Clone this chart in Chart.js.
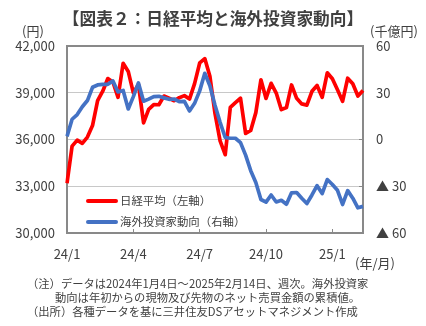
<!DOCTYPE html>
<html lang="ja">
<head>
<meta charset="utf-8">
<title>日経平均と海外投資家動向</title>
<script src="https://cdn.jsdelivr.net/npm/chart.js@4.4.1/dist/chart.umd.min.js"></script>
<style>
  html, body { margin: 0; padding: 0; background: #fff; }
  canvas { display: block; }
</style>
</head>
<body>
<canvas id="chart" width="426" height="326"></canvas>
<script>
// 週次データ（2024/1/4〜2025/2/14）
const labels = [
  '2024/1/4', '2024/1/12', '2024/1/19', '2024/1/26', '2024/2/2', '2024/2/9', '2024/2/16', '2024/2/22',
  '2024/3/1', '2024/3/8', '2024/3/15', '2024/3/22', '2024/3/29', '2024/4/5', '2024/4/12', '2024/4/19',
  '2024/4/26', '2024/5/2', '2024/5/10', '2024/5/17', '2024/5/24', '2024/5/31', '2024/6/7', '2024/6/14',
  '2024/6/21', '2024/6/28', '2024/7/5', '2024/7/12', '2024/7/19', '2024/7/26', '2024/8/2', '2024/8/9',
  '2024/8/16', '2024/8/23', '2024/8/30', '2024/9/6', '2024/9/13', '2024/9/20', '2024/9/27', '2024/10/4',
  '2024/10/11', '2024/10/18', '2024/10/25', '2024/11/1', '2024/11/8', '2024/11/15', '2024/11/22', '2024/11/29',
  '2024/12/6', '2024/12/13', '2024/12/20', '2024/12/27', '2024/12/30', '2025/1/10', '2025/1/17', '2025/1/24',
  '2025/1/31', '2025/2/7', '2025/2/14'
];

// 日経平均（円、左軸）
const nikkei = [
  33200, 35577, 35963, 35751, 36158, 36897, 38487, 39099, 39911, 39689,
  38708, 40888, 40369, 38992, 39524, 37068, 37935, 38236, 38229, 38787,
  38646, 38488, 38684, 38815, 38596, 39583, 40912, 41191, 40064, 37667,
  35910, 35025, 38063, 38364, 38648, 36391, 36582, 37724, 39830, 38636,
  39606, 38982, 37914, 38054, 39500, 38643, 38284, 38208, 39091, 39470,
  38702, 40281, 39895, 39190, 38451, 39932, 39572, 38787, 39149
];

// 海外投資家動向（千億円、右軸）
const foreign = [
  2, 13, 16, 21, 25, 33.5, 35, 35.4, 35.4, 37.6,
  30.5, 31.5, 19.6, 27.5, 36.3, 24.6, 25.9, 27.5, 27.7, 26.7,
  25.8, 26, 24.3, 24.5, 18.3, 23.2, 31.2, 42.5, 34.5, 22,
  11, 1.3, 0.8, 0.8, -2, -10, -20, -27.6, -38.5, -40.2,
  -35.6, -40.1, -39, -41.5, -34.2, -34, -37.7, -41.1, -35.6, -29.6,
  -34.7, -25.7, -28.9, -32.6, -41.7, -32.8, -37.7, -43.8, -42.9
];

const xTickIndex = [0, 13, 26, 39, 52];
const xTickLabels = ['24/1', '24/4', '24/7', '24/10', '25/1'];
const leftRange = [30000, 42000, 3000];
const rightRange = [-60, 60, 30];

const notes = [
  '（注）データは2024年1月4日～2025年2月14日、週次。海外投資家',
  '動向は年初からの現物及び先物のネット売買金額の累積値。',
  '（出所）各種データを基に三井住友DSアセットマネジメント作成'
];

const FONT = "'Noto Sans CJK JP', 'Noto Sans', sans-serif";
const TEXT = '#404040';

Chart.defaults.font.family = FONT;
Chart.defaults.color = TEXT;

// 枠線と文字（タイトル・単位・凡例・注記）
const frame = {
  id: 'frame',
  beforeDatasetsDraw(chart) {
    const { ctx, chartArea: a } = chart;
    ctx.save();
    ctx.strokeStyle = '#898989';
    ctx.lineWidth = 2;
    ctx.strokeRect(a.left, a.top, a.right - a.left, a.bottom - a.top);
    ctx.restore();
  },
  afterDraw(chart) {
    const { ctx } = chart;
    ctx.save();
    ctx.fillStyle = TEXT;
    ctx.textBaseline = 'middle';

    ctx.font = 'bold 16.7px ' + FONT;
    ctx.textAlign = 'center';
    ctx.fillText('【図表２：日経平均と海外投資家動向】', 213, 19);

    ctx.font = '13px ' + FONT;
    ctx.textAlign = 'left';
    ctx.fillText('(円)', 22, 31);
    ctx.fillText('(千億円)', 370, 31);
    ctx.fillText('(年/月)', 355, 263);

    // 凡例
    const items = [chart.data.datasets[1], chart.data.datasets[0]];
    const rows = [201, 222];
    ctx.font = '11.4px ' + FONT;
    items.forEach((ds, i) => {
      ctx.strokeStyle = ds.borderColor;
      ctx.lineWidth = 4;
      ctx.lineCap = 'round';
      ctx.beginPath();
      ctx.moveTo(88, rows[i]);
      ctx.lineTo(116, rows[i]);
      ctx.stroke();
      ctx.fillText(ds.label, 120, rows[i]);
    });

    ctx.font = '11.3px ' + FONT;
    ctx.fillText(notes[0], 27, 284);
    ctx.fillText(notes[1], 55, 297.5);
    ctx.fillText(notes[2], 27, 312);
    ctx.restore();
  }
};

new Chart(document.getElementById('chart').getContext('2d'), {
  type: 'line',
  data: {
    labels: labels,
    datasets: [
      {
        label: '海外投資家動向（右軸）',
        data: foreign,
        yAxisID: 'y1',
        borderColor: '#4472C4',
        borderWidth: 3.7,
        pointRadius: 0,
        tension: 0,
        borderJoinStyle: 'round',
        order: 0
      },
      {
        label: '日経平均（左軸）',
        data: nikkei,
        yAxisID: 'y',
        borderColor: '#FF0000',
        borderWidth: 3.7,
        pointRadius: 0,
        tension: 0,
        borderJoinStyle: 'round',
        order: 1
      }
    ]
  },
  options: {
    responsive: false,
    animation: false,
    layout: { padding: { top: 46, left: 0, right: 0, bottom: 0 } },
    plugins: {
      legend: { display: false },
      tooltip: { enabled: false }
    },
    scales: {
      x: {
        type: 'category',
        offset: false,
        afterBuildTicks: (scale) => {
          scale.ticks = xTickIndex.map(i => ({ value: i }));
        },
        afterFit: (scale) => { scale.height = 93; },
        ticks: {
          autoSkip: false,
          maxRotation: 0,
          padding: 17,
          font: { size: 13 },
          callback: (value, index) => xTickLabels[index]
        },
        grid: {
          drawOnChartArea: false,
          drawTicks: true,
          tickLength: -4,
          color: '#898989',
          lineWidth: 1
        },
        border: { display: false }
      },
      y: {
        position: 'left',
        min: leftRange[0],
        max: leftRange[1],
        afterFit: (scale) => { scale.width = 67; },
        ticks: {
          stepSize: leftRange[2],
          padding: 12,
          font: { size: 13 },
          callback: (v) => v.toLocaleString('en-US')
        },
        grid: {
          color: '#c8c8c8',
          lineWidth: 1,
          drawTicks: false
        },
        border: { display: false }
      },
      y1: {
        position: 'right',
        min: rightRange[0],
        max: rightRange[1],
        afterFit: (scale) => { scale.width = 63; },
        ticks: {
          stepSize: rightRange[2],
          padding: 17,
          font: { size: 13 },
          callback: (v) => (v < 0 ? '▲ ' + (-v) : String(v))
        },
        grid: {
          drawOnChartArea: false,
          drawTicks: true,
          tickLength: -4,
          color: '#898989'
        },
        border: { display: false }
      }
    }
  },
  plugins: [frame]
});
</script>
</body>
</html>
